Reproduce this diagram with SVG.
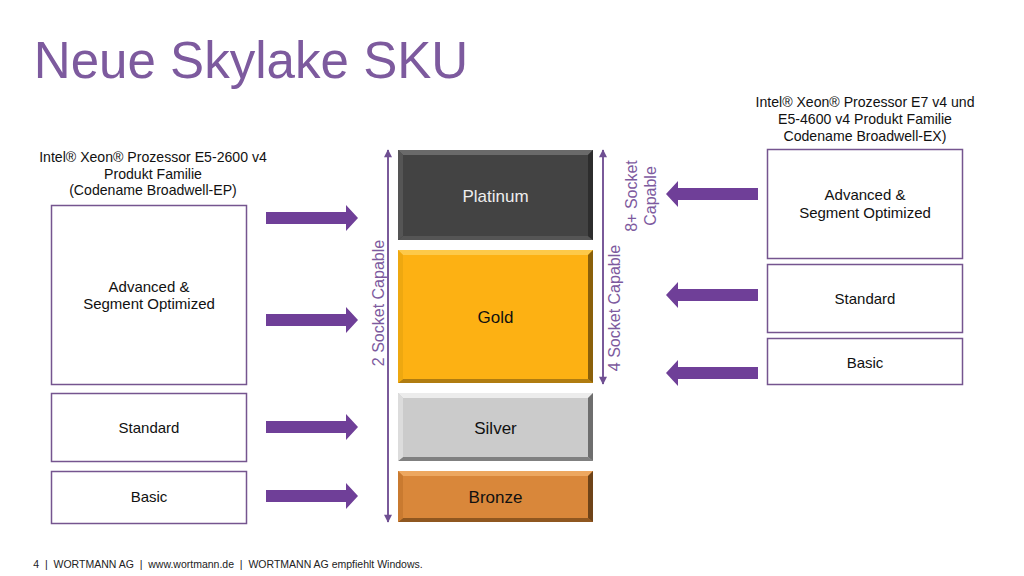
<svg xmlns="http://www.w3.org/2000/svg" width="1024" height="576" viewBox="0 0 1024 576">
<style>
text{font-family:"Liberation Sans",Arial,sans-serif;text-anchor:middle}
.c{font-size:14.1px;fill:#111}
.t{font-size:15px;fill:#111}
.b{font-size:17px}
.box{fill:#fff;stroke:#75558f;stroke-width:1.5}
.p{font-size:16px;fill:#7d5a9e}
.a{fill:#6f3f98}
.l{stroke:#7a5a9a;stroke-width:2;fill:none}
</style>
<defs>
<marker id="h" viewBox="0 0 10 10" refX="9" refY="5" markerWidth="9" markerHeight="8" markerUnits="userSpaceOnUse" orient="auto-start-reverse"><path d="M0 0L10 5L0 10Z" fill="#6f4f92"/></marker>
<path id="ar" class="a" d="M0-6H80V-13L92 0L80 13V6H0Z"/>
<path id="al" class="a" d="M92-6H12V-13L0 0L12 13V6H92Z"/>
</defs>
<rect width="1024" height="576" fill="#fff"/>
<text x="251" y="78" style="font-size:51.100px;fill:#7d5a9e">Neue Skylake SKU</text>

<g id="left-caption"><text class="c" x="153" y="162">Intel® Xeon® Prozessor E5-2600 v4</text><text class="c" x="153" y="179">Produkt Familie</text><text class="c" x="153" y="195">(Codename Broadwell-EP)</text></g>
<g id="right-caption"><text class="c" x="865" y="107">Intel® Xeon® Prozessor E7 v4 und</text><text class="c" x="865" y="124">E5-4600 v4 Produkt Familie</text><text class="c" x="865" y="141">Codename Broadwell-EX)</text></g>

<g id="l-adv"><rect class="box" x="51.500" y="205.500" width="195" height="179"/><text class="t" x="149" y="292">Advanced &amp;</text><text class="t" x="149" y="309">Segment Optimized</text></g>
<g id="l-std"><rect class="box" x="51.500" y="393.500" width="195" height="68"/><text class="t" x="149" y="433">Standard</text></g>
<g id="l-bas"><rect class="box" x="51.500" y="471.500" width="195" height="52"/><text class="t" x="149" y="502">Basic</text></g>
<g id="r-adv"><rect class="box" x="767.500" y="149.500" width="195" height="109"/><text class="t" x="865" y="200">Advanced &amp;</text><text class="t" x="865" y="218">Segment Optimized</text></g>
<g id="r-std"><rect class="box" x="767.500" y="264.500" width="195" height="68"/><text class="t" x="865" y="304">Standard</text></g>
<g id="r-bas"><rect class="box" x="767.500" y="338.500" width="195" height="46"/><text class="t" x="865" y="368">Basic</text></g>

<g id="platinum"><rect x="398" y="150" width="195" height="90" fill="#434343"/><path d="M398 150H593L588 155H403Z" fill="#6a6a6a"/><path d="M398 240H593L588 236H403Z" fill="#555"/><path d="M398 150L403 155V236L398 240Z" fill="#555"/><path d="M593 150L588 155V236L593 240Z" fill="#2d2d2d"/><text class="b" x="495.500" y="202" fill="#eee">Platinum</text></g>
<g id="gold"><rect x="398" y="250" width="195" height="133" fill="#fdb113"/><path d="M398 250H593L588 255H403Z" fill="#fdc94a"/><path d="M398 383H593L588 379H403Z" fill="#b07c10"/><path d="M398 250L403 255V379L398 383Z" fill="#eea810"/><path d="M593 250L588 255V379L593 383Z" fill="#8a600a"/><text class="b" x="495.500" y="323" fill="#111">Gold</text></g>
<g id="silver"><rect x="398" y="393" width="195" height="68" fill="#cbcbcb"/><path d="M398 393H593L588 398H403Z" fill="#ececec"/><path d="M398 461H593L588 457H403Z" fill="#808080"/><path d="M398 393L403 398V457L398 461Z" fill="#dcdcdc"/><path d="M593 393L588 398V457L593 461Z" fill="#6e6e6e"/><text class="b" x="495.500" y="433.500" fill="#111">Silver</text></g>
<g id="bronze"><rect x="398" y="471" width="195" height="51" fill="#d9873a"/><path d="M398 471H593L588 476H403Z" fill="#eda75f"/><path d="M398 522H593L588 518H403Z" fill="#8f5720"/><path d="M398 471L403 476V518L398 522Z" fill="#c97a30"/><path d="M593 471L588 476V518L593 522Z" fill="#6e4318"/><text class="b" x="495.500" y="503" fill="#111">Bronze</text></g>

<g id="connectors">
<line class="l" x1="388" y1="150" x2="388" y2="522" marker-start="url(#h)" marker-end="url(#h)"/>
<line class="l" x1="603" y1="150" x2="603" y2="384" marker-start="url(#h)" marker-end="url(#h)"/>
<use href="#ar" x="266" y="218"/>
<use href="#ar" x="266" y="320"/>
<use href="#ar" x="266" y="427"/>
<use href="#ar" x="266" y="496"/>
<use href="#al" x="666" y="194"/>
<use href="#al" x="666" y="295"/>
<use href="#al" x="666" y="373"/>
</g>

<g id="labels">
<text class="p" transform="translate(384 303) rotate(-90)">2 Socket Capable</text>
<text class="p" transform="translate(620 308) rotate(-90)">4 Socket Capable</text>
<text class="p" transform="translate(637 196) rotate(-90)">8+ Socket</text>
<text class="p" transform="translate(656 196) rotate(-90)">Capable</text>
</g>
<text x="228" y="568" style="font-size:10.500px;fill:#222;white-space:pre">4  |  WORTMANN AG  |  www.wortmann.de  |  WORTMANN AG empfiehlt Windows.</text>
</svg>
